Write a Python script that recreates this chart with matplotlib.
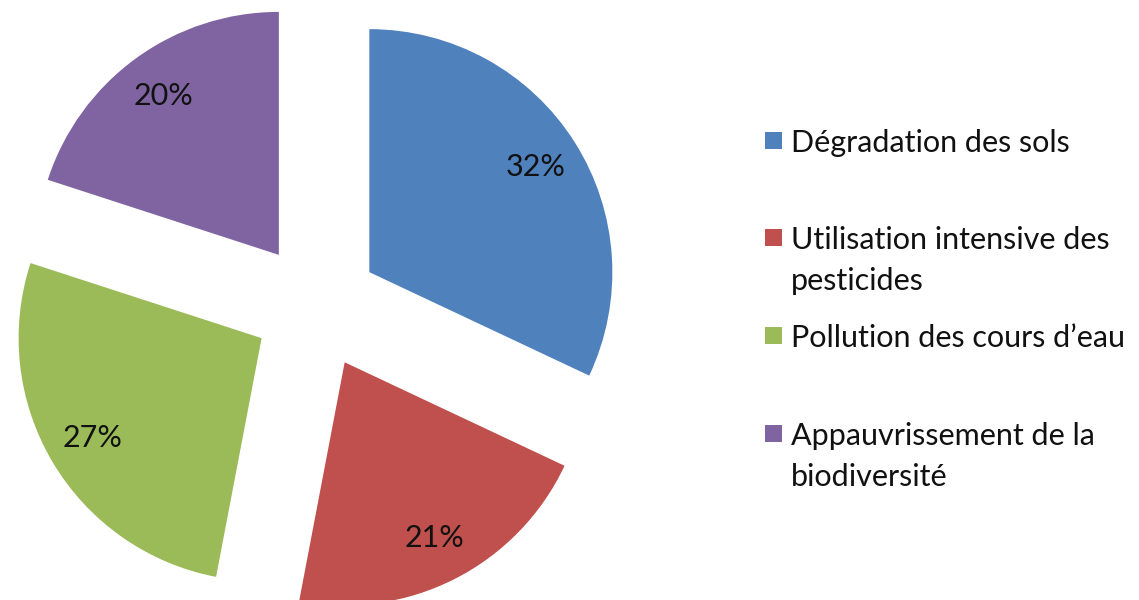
import textwrap
import matplotlib
matplotlib.use('Agg')
import matplotlib.pyplot as plt
from matplotlib.patches import Rectangle

plt.rcParams['font.family'] = ['Lato', 'DejaVu Sans']

# data
categories = ['Dégradation des sols',
              'Utilisation intensive des pesticides',
              'Pollution des cours d’eau',
              'Appauvrissement de la biodiversité']
values = [32, 21, 27, 20]
colors = ['#4F81BD', '#C0504D', '#9BBB59', '#8064A2']

W, H = 1139, 600
fig = plt.figure(figsize=(W / 100, H / 100), dpi=100)
fig.patch.set_facecolor('white')

# pie centre (pixels from left / from bottom) and radius in pixels
cx, cy, R = 316, 294, 243
ax = fig.add_axes([0, 0, 1, 1])
wedges, texts, autotexts = ax.pie(values, colors=colors, explode=[0.26] * len(values),
                                  startangle=90, counterclock=False,
                                  autopct=lambda p: '%.0f%%' % p, pctdistance=0.81,
                                  wedgeprops=dict(linewidth=0),
                                  textprops=dict(fontsize=22, color='#111111'))
ax.set_xlim(-cx / R, (W - cx) / R)
ax.set_ylim(-cy / R, (H - cy) / R)
ax.set_aspect('equal')
ax.axis('off')

# legend, Excel style: square aligned with the first text line
leg_y = [140, 237, 335, 433]
for lab, col, y in zip(categories, colors, leg_y):
    fig.patches.append(Rectangle((765 / W, 1 - (y + 9) / H), 17 / W, 17 / H,
                                 transform=fig.transFigure, color=col, lw=0))
    fig.text(791 / W, 1 - (y - 11) / H, textwrap.fill(lab, 25), fontsize=22,
             color='#111111', ha='left', va='top', linespacing=1.55)

fig.savefig('out.png', dpi=100)
